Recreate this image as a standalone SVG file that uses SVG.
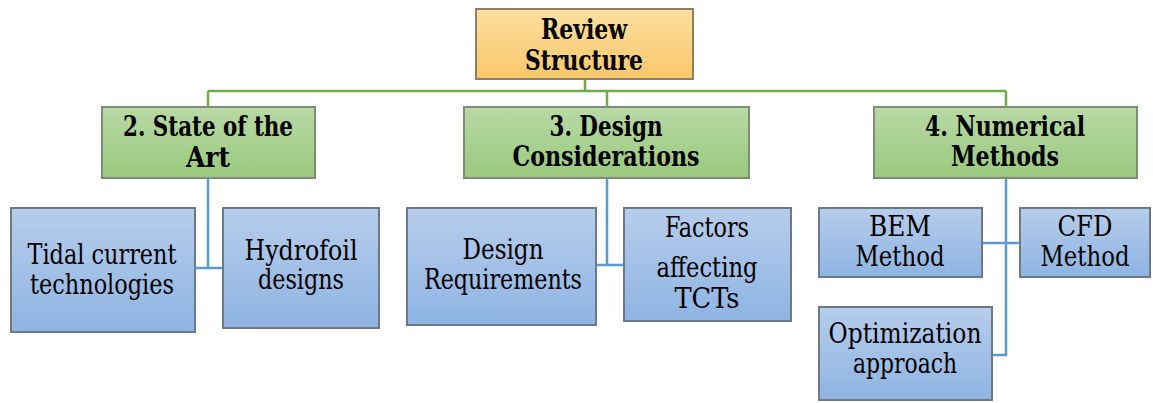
<svg xmlns="http://www.w3.org/2000/svg" width="1153" height="403" viewBox="0 0 1153 403">
  <defs>
    <linearGradient id="gOrange" x1="0" y1="0" x2="0" y2="1">
      <stop offset="0" stop-color="#FDDFA0"/>
      <stop offset="1" stop-color="#F9C76A"/>
    </linearGradient>
    <linearGradient id="gGreen" x1="0" y1="0" x2="0" y2="1">
      <stop offset="0" stop-color="#B9D9A5"/>
      <stop offset="1" stop-color="#99C97E"/>
    </linearGradient>
    <linearGradient id="gBlue" x1="0" y1="0" x2="0" y2="1">
      <stop offset="0" stop-color="#B7CDEB"/>
      <stop offset="1" stop-color="#8EB4E3"/>
    </linearGradient>
  </defs>
  <style>
    .root { fill: url(#gOrange); stroke: #8D7F66; stroke-width: 2; }
    .lvl2 { fill: url(#gGreen); stroke: #7E8C78; stroke-width: 2; }
    .leaf { fill: url(#gBlue); stroke: #6E7987; stroke-width: 2; }
    text { font-family: 'DejaVu Serif Condensed', 'DejaVu Serif', serif; font-stretch: condensed; fill: #000; text-anchor: middle; }
    .hd { font-weight: bold; font-size: 27px; }
    .tx { font-size: 27px; }
    .cg { fill: none; stroke: #70AD47; stroke-width: 2.5; }
    .cb { fill: none; stroke: #5B9BD5; stroke-width: 2.5; }
  </style>

  <g id="connectors">
    <path class="cg" d="M585,79 V91 M208,91 H1006 M208,91 V107 M607,91 V107 M1006,91 V107"/>
    <path class="cb" d="M208,178 V268 M195,268 H223"/>
    <path class="cb" d="M607,178 V265 M596,265 H624"/>
    <path class="cb" d="M1006,178 V355 H992 M982,243 H1020"/>
  </g>

  <g id="root">
    <rect class="root" x="476" y="9" width="217" height="70"/>
    <text class="hd" x="584" y="39" textLength="86" lengthAdjust="spacingAndGlyphs">Review</text>
    <text class="hd" x="584" y="70" textLength="118" lengthAdjust="spacingAndGlyphs">Structure</text>
  </g>

  <g id="state-of-the-art">
    <rect class="lvl2" x="102" y="107" width="213" height="71"/>
    <text class="hd" x="208" y="136" textLength="170" lengthAdjust="spacingAndGlyphs">2. State of the</text>
    <text class="hd" x="208" y="167" textLength="44" lengthAdjust="spacingAndGlyphs">Art</text>
  </g>

  <g id="design-considerations">
    <rect class="lvl2" x="464" y="107" width="285" height="71"/>
    <text class="hd" x="606" y="136" textLength="113" lengthAdjust="spacingAndGlyphs">3. Design</text>
    <text class="hd" x="606" y="166" textLength="187" lengthAdjust="spacingAndGlyphs">Considerations</text>
  </g>

  <g id="numerical-methods">
    <rect class="lvl2" x="874" y="107" width="263" height="71"/>
    <text class="hd" x="1005" y="136" textLength="160" lengthAdjust="spacingAndGlyphs">4. Numerical</text>
    <text class="hd" x="1005" y="166" textLength="108" lengthAdjust="spacingAndGlyphs">Methods</text>
  </g>

  <g id="tidal">
    <rect class="leaf" x="11" y="208" width="184" height="124"/>
    <text class="tx" x="102" y="264" textLength="149" lengthAdjust="spacingAndGlyphs">Tidal current</text>
    <text class="tx" x="102" y="294" textLength="144" lengthAdjust="spacingAndGlyphs">technologies</text>
  </g>

  <g id="hydrofoil">
    <rect class="leaf" x="223" y="208" width="156" height="120"/>
    <text class="tx" x="301" y="260" textLength="113" lengthAdjust="spacingAndGlyphs">Hydrofoil</text>
    <text class="tx" x="301" y="289" textLength="86" lengthAdjust="spacingAndGlyphs">designs</text>
  </g>

  <g id="design-requirements">
    <rect class="leaf" x="407" y="208" width="189" height="117"/>
    <text class="tx" x="503" y="259" textLength="81" lengthAdjust="spacingAndGlyphs">Design</text>
    <text class="tx" x="503" y="289" textLength="158" lengthAdjust="spacingAndGlyphs">Requirements</text>
  </g>

  <g id="factors">
    <rect class="leaf" x="624" y="208" width="167" height="113"/>
    <text class="tx" x="707" y="237" textLength="84" lengthAdjust="spacingAndGlyphs">Factors</text>
    <text class="tx" x="707" y="277" textLength="101" lengthAdjust="spacingAndGlyphs">affecting</text>
    <text class="tx" x="707" y="308" textLength="65" lengthAdjust="spacingAndGlyphs">TCTs</text>
  </g>

  <g id="bem">
    <rect class="leaf" x="819" y="208" width="163" height="69"/>
    <text class="tx" x="900" y="236" textLength="62" lengthAdjust="spacingAndGlyphs">BEM</text>
    <text class="tx" x="900" y="266" textLength="89" lengthAdjust="spacingAndGlyphs">Method</text>
  </g>

  <g id="cfd">
    <rect class="leaf" x="1020" y="208" width="130" height="69"/>
    <text class="tx" x="1085" y="236" textLength="55" lengthAdjust="spacingAndGlyphs">CFD</text>
    <text class="tx" x="1085" y="266" textLength="89" lengthAdjust="spacingAndGlyphs">Method</text>
  </g>

  <g id="optimization">
    <rect class="leaf" x="819" y="307" width="173" height="93"/>
    <text class="tx" x="905" y="343" textLength="153" lengthAdjust="spacingAndGlyphs">Optimization</text>
    <text class="tx" x="905" y="373" textLength="104" lengthAdjust="spacingAndGlyphs">approach</text>
  </g>
</svg>
